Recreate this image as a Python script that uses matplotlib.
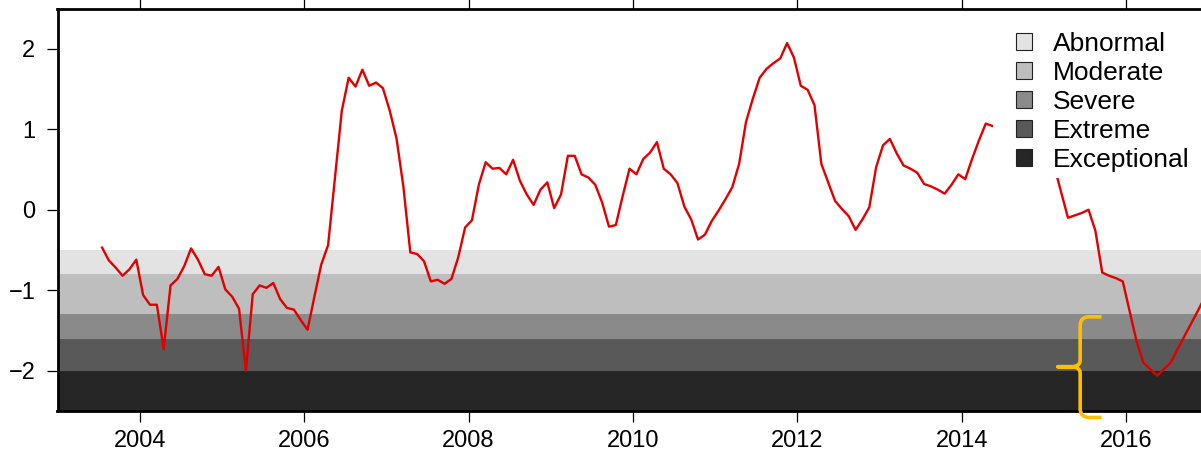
import numpy as np
import matplotlib
matplotlib.use("Agg")
import matplotlib.pyplot as plt
from matplotlib.patches import Patch, Rectangle, PathPatch
from matplotlib.path import Path

plt.rcParams['font.family'] = ['Liberation Sans', 'DejaVu Sans']

# monthly index, first value is July 2003
start_year = 2003
start_month = 7
index_values = [
    -0.47, -0.63, -0.72, -0.82, -0.74, -0.62,
    -1.06, -1.18, -1.18, -1.73, -0.94, -0.86, -0.70, -0.48, -0.62, -0.80, -0.82, -0.71,
    -0.99, -1.08, -1.23, -2.00, -1.05, -0.94, -0.97, -0.91, -1.11, -1.22, -1.24, -1.37,
    -1.49, -1.08, -0.68, -0.44, 0.40, 1.23, 1.64, 1.53, 1.74, 1.54, 1.58, 1.51,
    1.23, 0.88, 0.28, -0.53, -0.55, -0.64, -0.89, -0.87, -0.92, -0.86, -0.59, -0.22,
    -0.13, 0.31, 0.59, 0.51, 0.52, 0.44, 0.62, 0.36, 0.19, 0.06, 0.25, 0.34,
    0.02, 0.19, 0.67, 0.67, 0.44, 0.40, 0.31, 0.09, -0.21, -0.19, 0.17, 0.51,
    0.44, 0.63, 0.71, 0.84, 0.51, 0.44, 0.33, 0.04, -0.12, -0.37, -0.31, -0.14,
    -0.01, 0.13, 0.28, 0.57, 1.09, 1.38, 1.64, 1.75, 1.82, 1.88, 2.07, 1.89,
    1.54, 1.49, 1.30, 0.57, 0.34, 0.11, 0.01, -0.08, -0.25, -0.12, 0.03, 0.53,
    0.80, 0.88, 0.70, 0.55, 0.51, 0.46, 0.32, 0.29, 0.25, 0.20, 0.31, 0.44,
    0.38, 0.63, 0.86, 1.07, 1.04, 1.05, 1.00, 0.95, 1.00, 0.90, 0.85, 0.80,
    0.70, 0.54, 0.22, -0.10, -0.07, -0.04, 0.00, -0.26, -0.78, -0.82, -0.85, -0.89,
    -1.26, -1.63, -1.90, -1.98, -2.06, -1.98, -1.90, -1.73, -1.57, -1.41, -1.25, -1.08,
]

# drought categories: (upper, lower) bounds of each band
categories = ['Abnormal', 'Moderate', 'Severe', 'Extreme', 'Exceptional']
band_edges = [-0.5, -0.8, -1.3, -1.6, -2.0, -2.5]
band_colors = ['#e3e3e3', '#bebebe', '#8a8a8a', '#595959', '#262626']

year_ticks = [2004, 2006, 2008, 2010, 2012, 2014, 2016]
y_ticks = [-2, -1, 0, 1, 2]

# brace marking the severe-to-exceptional range
brace_x = 2015.44
brace_top = -1.33
brace_bottom = -2.58
brace_mid = -1.95

t = start_year + (start_month - 1 + np.arange(len(index_values)) + 0.5) / 12.0

fig = plt.figure(figsize=(12.01, 4.51), dpi=100)
ax = fig.add_axes([57.5 / 1201, 40 / 451, 1 - 57.5 / 1201, 402.5 / 451])

for i, c in enumerate(band_colors):
    ax.axhspan(band_edges[i + 1], band_edges[i], color=c, lw=0, zorder=0)

ax.plot(t, index_values, color='#e00000', lw=1.7, zorder=2)

# curly brace drawn as a path
w = 0.11
h = 0.11
verts = [
    (brace_x + 0.26, brace_top), (brace_x + w, brace_top),
    (brace_x, brace_top), (brace_x, brace_top - h),
    (brace_x, brace_mid + 0.08),
    (brace_x, brace_mid), (brace_x - w, brace_mid),
    (brace_x - 0.27, brace_mid),
    (brace_x - w, brace_mid),
    (brace_x, brace_mid), (brace_x, brace_mid - 0.08),
    (brace_x, brace_bottom + h),
    (brace_x, brace_bottom), (brace_x + w, brace_bottom),
    (brace_x + 0.26, brace_bottom),
]
codes = [Path.MOVETO, Path.LINETO,
         Path.CURVE3, Path.CURVE3,
         Path.LINETO,
         Path.CURVE3, Path.CURVE3,
         Path.LINETO,
         Path.LINETO,
         Path.CURVE3, Path.CURVE3,
         Path.LINETO,
         Path.CURVE3, Path.CURVE3,
         Path.LINETO]
brace = PathPatch(Path(verts, codes), fill=False, edgecolor='#ffbf00', lw=2.6,
                  capstyle='butt', joinstyle='round', zorder=4, clip_on=False)
ax.add_patch(brace)

ax.set_xlim(2003.0, 2016.91)
ax.set_ylim(-2.5, 2.5)
ax.set_xticks(year_ticks)
ax.set_xticklabels([str(y) for y in year_ticks])
ax.set_yticks(y_ticks)

ax.tick_params(axis='x', direction='out', length=8, width=0.9, pad=6,
               labelsize=17, top=True, labeltop=False)
ax.tick_params(axis='y', direction='out', length=8, width=0.9, pad=8,
               labelsize=17)

for side in ['left', 'top', 'bottom']:
    ax.spines[side].set_linewidth(2)
ax.spines['right'].set_visible(False)

# white backing behind the legend hides the line there
ax.add_patch(Rectangle((0.818, 0.579), 0.182, 0.373, transform=ax.transAxes,
                       facecolor='white', edgecolor='none', zorder=3))

handles = [Patch(facecolor=c, edgecolor='#222222', lw=0.8) for c in band_colors]
leg = ax.legend(handles, categories, loc='upper left', bbox_to_anchor=(0.8382, 0.9416),
                frameon=False, fontsize=19, handlelength=0.6, handleheight=0.6,
                handletextpad=0.8, labelspacing=0.19, borderpad=0, borderaxespad=0)
leg.set_zorder(5)

fig.savefig('out.png', dpi=100)
